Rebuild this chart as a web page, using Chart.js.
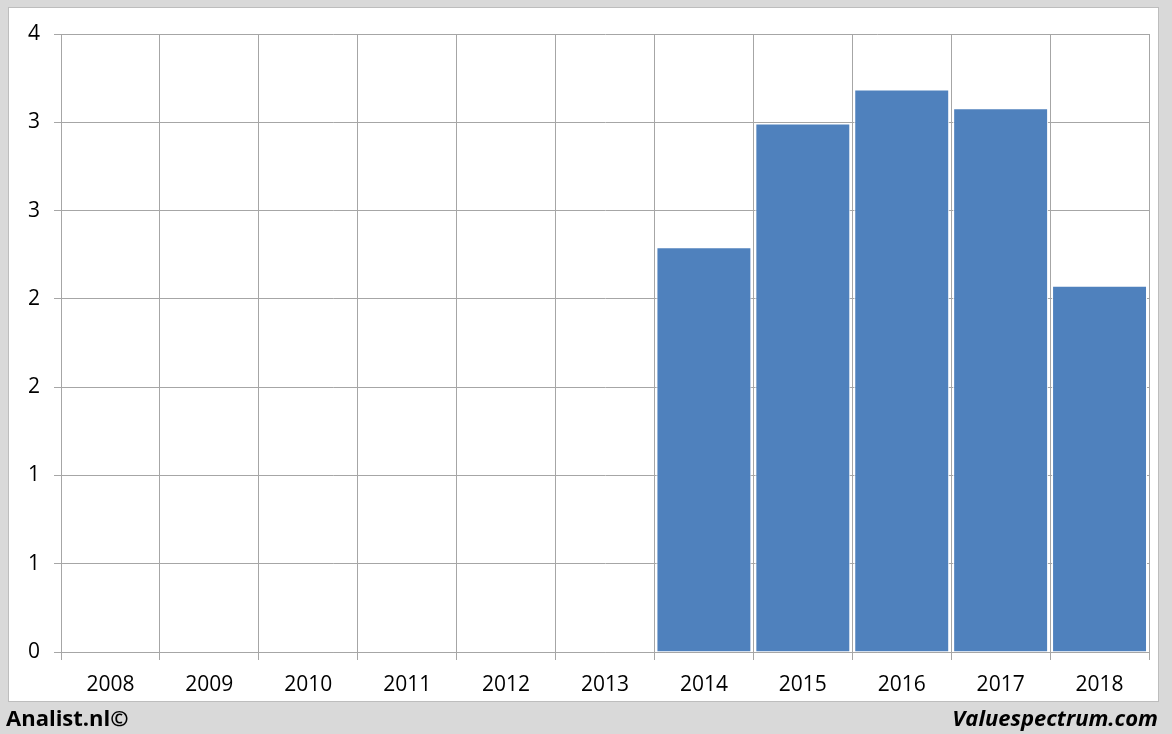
<!DOCTYPE html>
<html>
<head>
<meta charset="utf-8">
<script src="https://cdn.jsdelivr.net/npm/chart.js@4"></script>
<style>
  html, body { margin: 0; padding: 0; background: #d9d9d9; }
  #wrap { width: 1172px; height: 734px; position: relative; }
</style>
</head>
<body>
<div id="wrap"><canvas id="myChart" width="1172" height="734"></canvas></div>
<script>
// data
var years = ['2008', '2009', '2010', '2011', '2012', '2013', '2014', '2015', '2016', '2017', '2018'];
var values = [null, null, null, null, null, null, 2.62, 3.42, 3.64, 3.52, 2.37];
var yTickLabels = ['0', '1', '1', '2', '2', '3', '3', '4'];
var yMax = 4;

var font = "'Open Sans', 'Liberation Sans', sans-serif";
var gridColor = '#a6a6a6';

// gray frame, white panel, footer text
var framePlugin = {
  id: 'frame',
  beforeDraw: function (chart) {
    var c = chart.ctx;
    c.save();
    c.fillStyle = '#d9d9d9';
    c.fillRect(0, 0, chart.width, chart.height);
    c.fillStyle = '#ffffff';
    c.fillRect(8, 7, 1151, 695);
    c.strokeStyle = '#bdbdbd';
    c.lineWidth = 1;
    c.strokeRect(8.5, 7.5, 1150, 694);
    c.restore();
  },
  afterDraw: function (chart) {
    var c = chart.ctx;
    c.save();
    c.fillStyle = '#000000';
    c.textBaseline = 'alphabetic';
    c.font = "bold 22px " + font;
    c.textAlign = 'left';
    c.fillText('Analist.nl\u00A9', 6, 726);
    c.font = "italic bold 22px " + font;
    c.textAlign = 'right';
    c.fillText('Valuespectrum.com', 1158, 726);
    c.restore();
  }
};

var ctx = document.getElementById('myChart').getContext('2d');
var myChart = new Chart(ctx, {
  type: 'bar',
  data: {
    labels: years,
    datasets: [{
      data: values,
      backgroundColor: '#4f81bd',
      borderColor: '#ffffff',
      borderWidth: 1,
      barPercentage: 0.96,
      categoryPercentage: 1.0
    }]
  },
  options: {
    responsive: false,
    animation: false,
    devicePixelRatio: 1,
    layout: { padding: { left: 0, top: 34, right: 23, bottom: 0 } },
    plugins: { legend: { display: false }, tooltip: { enabled: false } },
    scales: {
      x: {
        offset: true,
        grid: { color: gridColor, lineWidth: 1, offset: true, tickLength: 8, drawOnChartArea: true },
        border: { color: gridColor },
        ticks: { color: '#000000', font: { family: font, size: 21 }, padding: 12, maxRotation: 0 },
        afterFit: function (scale) { scale.height = 82; }
      },
      y: {
        min: 0,
        max: yMax,
        grid: { color: gridColor, lineWidth: 1, tickLength: 7 },
        border: { color: gridColor },
        afterBuildTicks: function (scale) {
          var n = yTickLabels.length - 1;
          scale.ticks = yTickLabels.map(function (l, i) { return { value: yMax * i / n }; });
        },
        ticks: {
          color: '#000000',
          font: { family: font, size: 21 },
          padding: 14,
          callback: function (v, i) { return yTickLabels[i]; }
        },
        afterFit: function (scale) { scale.width = 61; }
      }
    }
  },
  plugins: [framePlugin]
});
</script>
</body>
</html>
